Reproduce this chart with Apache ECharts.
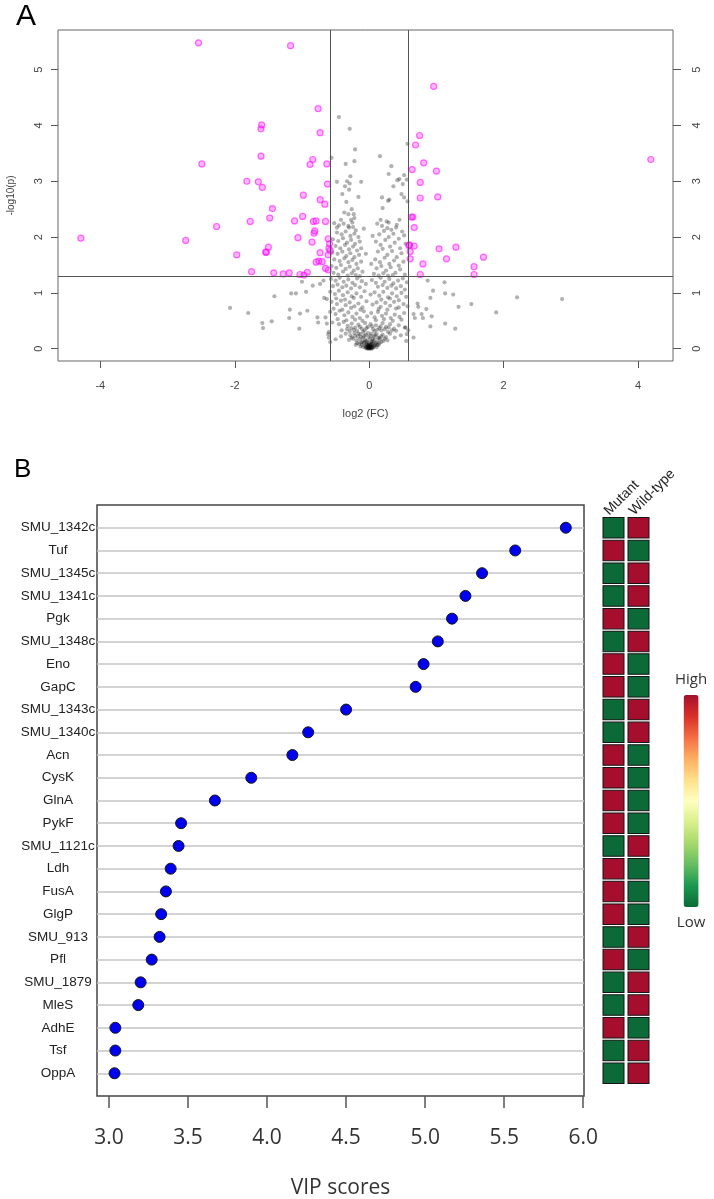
<!DOCTYPE html>
<html><head><meta charset="utf-8">
<script src="https://cdn.jsdelivr.net/npm/echarts@6/dist/echarts.min.js"></script>
<style>html,body{margin:0;padding:0;background:#fff}#c{width:714px;height:1199px}</style>
</head><body><div id="c"></div>
<script>
// ---------- Panel A: volcano plot ----------
const FC_CUT = Math.log2(1.5);      // |log2 FC| threshold
const P_CUT = -Math.log10(0.05);    // -log10(p) threshold
const volcanoXTicks = [-4, -2, 0, 2, 4];
const volcanoYTicks = [0, 1, 2, 3, 4, 5];
// significant proteins [log2 FC, -log10 p]
const volcanoSig = [
 [-2.54,5.48],[-1.17,5.43],[-0.76,4.30],[-1.60,4.01],[-1.61,3.94],[-0.73,3.87],[-2.49,3.31],[-1.61,3.45],
 [-0.84,3.39],[-0.88,3.30],[-0.63,3.31],[-1.82,3.00],[-1.65,2.99],[-1.59,2.89],[-0.62,2.95],[-0.98,2.75],
 [-0.73,2.67],[-0.66,2.59],[-1.11,2.29],[-0.99,2.37],[-0.83,2.28],[-0.79,2.29],[-0.65,2.28],[-4.29,1.98],
 [-2.73,1.94],[-2.27,2.19],[-1.97,1.68],[-1.77,2.28],[-1.75,1.38],[-1.44,2.51],[-1.48,2.34],[-1.50,1.82],
 [-1.54,1.73],[-1.53,1.73],[-1.42,1.36],[-1.28,1.34],[-1.19,1.36],[-1.06,1.99],[-1.03,1.33],[-0.97,1.32],
 [-0.92,1.37],[-0.85,1.91],[-0.82,2.07],[-0.81,2.11],[-0.79,1.55],[-0.75,1.57],[-0.70,1.56],[-0.73,1.72],
 [-0.61,1.97],[-0.59,1.88],[-0.60,1.80],[-0.65,1.44],[-0.61,1.41],[-0.61,1.68],[-0.58,1.76],
 [0.96,4.70],[4.19,3.39],[0.75,3.82],[0.69,3.65],[0.81,3.33],[0.64,3.21],[1.00,3.18],[0.76,2.98],
 [1.02,2.72],[0.76,2.70],[0.63,2.36],[0.65,2.36],[0.67,2.17],[0.60,1.86],[0.67,1.84],[0.61,1.74],
 [0.61,1.61],[0.80,1.52],[0.76,1.33],[1.04,1.79],[1.15,1.61],[1.29,1.82],[1.70,1.64],[1.56,1.47],
 [1.56,1.33],[0.59,1.85]
];
// non-significant proteins [log2 FC, -log10 p]
const volcanoNS = [
 [-0.45,4.15],[-0.29,3.94],[-0.21,3.57],[-0.56,3.42],[-0.22,3.36],[-0.35,3.31],[0.16,3.45],[0.33,3.27],
 [0.57,3.67],[-0.28,3.09],[-0.48,2.99],[-0.33,3.00],[-0.29,2.96],[-0.12,2.99],[-0.36,2.91],[-0.30,2.85],
 [-0.40,2.77],[-0.16,2.72],[-0.34,2.63],[-0.26,2.50],[-0.37,2.44],[-0.31,2.41],[-0.23,2.41],[-0.42,2.31],
 [-0.27,2.31],[-0.22,2.34],[-0.48,2.17],[-0.30,2.17],[-0.24,2.18],[0.29,3.13],[0.42,3.02],[0.45,3.04],
 [0.52,3.11],[0.36,2.91],[0.50,2.95],[0.56,3.03],[0.19,2.71],[0.30,2.67],[0.28,2.65],[0.48,2.77],
 [0.52,2.71],[0.57,2.64],[0.20,2.52],[0.17,2.31],[0.45,2.31],[0.29,2.26],[0.40,2.17],[0.27,2.16],
 [-0.52,2.25],[-0.45,2.21],[-0.38,2.24],[-0.31,2.20],[-0.25,2.26],[-0.20,2.12],[-0.48,2.08],[-0.41,2.05],
 [-0.35,2.10],[-0.28,2.02],[-0.22,2.06],[-0.16,2.00],[-0.54,1.96],[-0.46,1.93],[-0.39,1.98],[-0.33,1.90],
 [-0.27,1.95],[-0.21,1.88],[-0.14,1.92],[-0.50,1.84],[-0.43,1.80],[-0.36,1.86],[-0.30,1.78],[-0.24,1.83],
 [-0.18,1.76],[-0.12,1.80],[-0.55,1.72],[-0.47,1.70],[-0.40,1.74],[-0.34,1.66],[-0.28,1.71],[-0.22,1.64],
 [-0.15,1.68],[-0.52,1.60],[-0.44,1.57],[-0.37,1.62],[-0.31,1.55],[-0.25,1.59],[-0.19,1.52],[-0.12,1.56],
 [-0.56,1.48],[-0.49,1.45],[-0.42,1.50],[-0.35,1.43],[-0.29,1.47],[-0.23,1.40],[-0.17,1.44],[-0.10,1.38],
 [-0.53,1.36],[-0.46,1.33],[-0.39,1.38],[-0.32,1.31],[-0.26,1.35],[-0.20,1.32],[-0.14,1.30],
 [0.12,2.24],[0.19,2.20],[0.26,2.28],[0.33,2.13],[0.41,2.22],[0.49,2.10],[0.15,2.05],[0.22,2.11],
 [0.29,2.00],[0.36,2.06],[0.44,1.97],[0.52,2.03],[0.10,1.92],[0.17,1.86],[0.24,1.95],[0.31,1.83],
 [0.38,1.90],[0.46,1.80],[0.54,1.88],[0.13,1.74],[0.20,1.79],[0.27,1.68],[0.34,1.75],[0.41,1.64],
 [0.48,1.71],[0.09,1.60],[0.16,1.55],[0.23,1.63],[0.30,1.52],[0.37,1.58],[0.44,1.49],[0.51,1.56],
 [0.11,1.44],[0.18,1.48],[0.25,1.40],[0.32,1.46],[0.39,1.36],[0.46,1.42],[0.53,1.33],[0.07,1.34],
 [0.14,1.31],[0.21,1.35],[0.28,1.31],[0.35,1.32],[-0.05,1.70],[0.03,1.52],[-0.08,2.15],[0.05,2.02],
 [-0.57,1.25],[-0.50,1.22],[-0.44,1.27],[-0.38,1.20],[-0.31,1.24],[-0.25,1.18],[-0.18,1.26],[-0.11,1.21],
 [-0.05,1.16],[0.04,1.23],[0.10,1.18],[0.17,1.27],[0.23,1.20],[0.30,1.25],[0.36,1.17],[0.43,1.22],
 [0.50,1.26],[0.56,1.19],[-0.54,1.12],[-0.47,1.15],[-0.40,1.10],[-0.34,1.13],[-0.27,1.08],[-0.21,1.14],
 [-0.14,1.10],[0.13,1.11],[0.20,1.14],[0.27,1.09],[0.33,1.13],[0.40,1.08],[0.47,1.12],[0.53,1.06],
 [-0.58,1.02],[-0.51,0.98],[-0.45,1.04],[-0.39,0.96],[-0.32,1.01],[-0.26,0.94],[-0.19,0.99],[-0.12,0.93],
 [-0.07,1.03],[0.02,0.97],[0.08,1.01],[0.15,0.95],[0.21,1.02],[0.28,0.92],[0.34,0.99],[0.41,0.94],
 [0.48,1.00],[0.55,0.93],[-0.49,0.90],[-0.36,0.88],[-0.23,0.91],[0.18,0.88],[0.31,0.90],[0.44,0.87],
 [-0.56,0.84],[-0.48,0.80],[-0.42,0.86],[-0.35,0.78],[-0.29,0.83],[-0.22,0.76],[-0.16,0.81],[-0.10,0.74],
 [-0.04,0.85],[0.05,0.79],[0.11,0.83],[0.17,0.75],[0.24,0.82],[0.31,0.77],[0.37,0.84],[0.44,0.74],
 [0.51,0.80],[0.57,0.76],[-0.53,0.72],[-0.40,0.70],[-0.27,0.73],[-0.13,0.70],[0.14,0.71],[0.27,0.70],
 [0.40,0.72],[-0.58,0.66],[-0.50,0.62],[-0.44,0.68],[-0.37,0.60],[-0.31,0.65],[-0.25,0.57],[-0.19,0.63],
 [-0.14,0.55],[-0.08,0.67],[-0.03,0.58],[0.03,0.64],[0.08,0.56],[0.13,0.66],[0.19,0.59],[0.25,0.63],
 [0.32,0.55],[0.38,0.61],[0.45,0.57],[0.52,0.64],[-0.47,0.53],[-0.34,0.51],[-0.21,0.52],[-0.10,0.50],
 [0.10,0.51],[0.22,0.53],[0.35,0.50],[0.48,0.52],[-0.55,0.47],[-0.45,0.44],[-0.38,0.48],[-0.32,0.41],
 [-0.26,0.45],[-0.21,0.38],[-0.16,0.43],[-0.11,0.36],[-0.06,0.46],[-0.02,0.39],[0.02,0.44],[0.06,0.35],
 [0.10,0.42],[0.15,0.37],[0.20,0.46],[0.25,0.39],[0.31,0.44],[0.37,0.36],[0.44,0.42],[0.53,0.38],
 [-0.41,0.33],[-0.29,0.31],[-0.18,0.32],[-0.09,0.30],[0.08,0.31],[0.18,0.33],[0.28,0.30],[0.40,0.32],
 [-0.60,0.30],[0.58,0.33],[-0.35,0.27],[-0.28,0.24],[-0.22,0.28],[-0.17,0.22],[-0.13,0.26],[-0.09,0.20],
 [-0.05,0.25],[-0.01,0.21],[0.03,0.27],[0.07,0.22],[0.11,0.26],[0.15,0.20],[0.20,0.25],[0.25,0.21],
 [0.31,0.27],[-0.24,0.18],[-0.19,0.15],[-0.14,0.17],[-0.10,0.13],[-0.06,0.16],[-0.03,0.12],[0.01,0.17],
 [0.04,0.13],[0.08,0.16],[0.12,0.12],[0.16,0.17],[0.21,0.14],[-0.30,0.16],[0.27,0.15],[-0.42,0.22],
 [0.38,0.20],[-0.50,0.17],[0.47,0.24],[-0.58,0.12],[0.55,0.14],[-0.15,0.09],[-0.11,0.07],[-0.08,0.10],
 [-0.06,0.05],[-0.04,0.08],[-0.02,0.04],[0.00,0.07],[0.01,0.02],[0.03,0.05],[0.05,0.09],[0.07,0.04],
 [0.09,0.08],[0.12,0.06],[-0.01,0.01],[0.00,0.03],[-0.03,0.02],[0.02,0.01],[0.04,0.02],[-0.02,0.06],
 [0.02,0.08],[-0.05,0.03],[0.06,0.03],[0.00,0.00],[0.01,0.04],[-0.01,0.05],[0.10,0.10],[-0.12,0.11],
 [0.15,0.10],[-0.18,0.10],
 [-0.33,0.35],[-0.27,0.37],[-0.23,0.34],[-0.14,0.39],[-0.07,0.33],[-0.04,0.37],[0.04,0.40],[0.12,0.34],
 [0.17,0.40],[0.23,0.35],[0.29,0.38],[0.34,0.33],[-0.26,0.20],[-0.21,0.23],[-0.16,0.27],[-0.12,0.21],
 [-0.07,0.23],[-0.02,0.28],[0.02,0.23],[0.05,0.18],[0.09,0.24],[0.13,0.19],[0.18,0.22],[0.23,0.18],
 [-0.20,0.07],[-0.13,0.04],[-0.09,0.03],[-0.07,0.12],[-0.04,0.14],[-0.01,0.10],[0.03,0.11],[0.06,0.13],
 [0.08,0.06],[0.11,0.03],[0.14,0.07],[0.18,0.12],[-0.03,0.07],[0.01,0.06],[0.04,0.07],[-0.00,0.01],
 [0.02,0.03],[-0.02,0.02],[0.03,0.00],[-0.03,0.00],[0.05,0.01],[-0.05,0.01],
 [-2.07,0.73],[-1.80,0.64],[-1.59,0.46],[-1.58,0.37],[-1.45,0.49],[-1.41,0.94],[-1.16,0.99],[-1.09,0.99],
 [-1.18,0.70],[-1.19,0.55],[-1.04,0.36],[-1.03,0.63],[-1.00,1.20],[-0.94,1.02],[-0.92,0.68],[-0.84,1.13],
 [-0.77,0.56],[-0.76,0.47],[-0.68,1.22],[-0.67,0.91],[-0.63,0.89],[-0.65,0.56],[-0.63,0.45],[-0.61,0.26],
 [-0.60,0.20],[-0.73,1.16],
 [0.87,1.22],[1.12,1.19],[0.95,1.04],[1.13,0.99],[1.25,0.97],[0.91,0.91],[0.72,0.81],[0.73,0.75],
 [0.85,0.71],[1.33,0.75],[1.52,0.80],[2.20,0.92],[2.87,0.89],[1.89,0.65],[0.66,0.62],[0.68,0.55],
 [0.78,0.62],[0.80,0.55],[0.93,0.58],[1.13,0.45],[0.91,0.40],[1.28,0.36],[0.66,0.20],[0.54,0.38],[0.56,0.26]
];

// ---------- Panel B: VIP scores ----------
const vipGenes = ['SMU_1342c','Tuf','SMU_1345c','SMU_1341c','Pgk','SMU_1348c','Eno','GapC','SMU_1343c',
 'SMU_1340c','Acn','CysK','GlnA','PykF','SMU_1121c','Ldh','FusA','GlgP','SMU_913','Pfl','SMU_1879',
 'MleS','AdhE','Tsf','OppA'];
const vipScores = [5.89,5.57,5.36,5.255,5.17,5.08,4.99,4.94,4.50,4.26,4.16,3.90,3.67,3.456,3.44,3.39,
 3.36,3.33,3.32,3.27,3.20,3.185,3.04,3.04,3.035];
const vipTicks = [3.0, 3.5, 4.0, 4.5, 5.0, 5.5, 6.0];
// relative abundance: 1 = high, 0 = low
const heatColumns = ['Mutant', 'Wild-type'];
const mutantLevel = [0,1,0,0,1,0,1,1,0,0,1,1,1,1,0,1,1,1,0,1,0,0,1,0,0];
const wildLevel   = [1,0,1,1,0,1,0,0,1,1,0,0,0,0,1,0,0,0,1,0,1,1,0,1,1];
const legendText = ['High', 'Low'];

const heatData = [];
vipGenes.forEach((g, i) => {
  heatData.push([0, i + 1, mutantLevel[i]]);
  heatData.push([1, i + 1, wildLevel[i]]);
});

const SANS = 'Liberation Sans, Arial, sans-serif';
const chart = echarts.init(document.getElementById('c'), null, {renderer: 'canvas'});
const option = {
  animation: false,
  backgroundColor: '#fff',
  title: [
    {text: 'A', left: 16, top: 2, padding: 0, textStyle: {fontSize: 30, fontWeight: 'normal', color: '#000', fontFamily: SANS}},
    {text: 'B', left: 14, top: 457, padding: 0, textStyle: {fontSize: 26, fontWeight: 'normal', color: '#000', fontFamily: SANS}}
  ],
  grid: [
    {left: 58, right: 41, top: 30, bottom: 838, show: true, borderColor: '#666', borderWidth: 1, backgroundColor: 'transparent', outerBoundsMode: 'none', containLabel: false},
    {left: 97, right: 130, top: 505, bottom: 103, show: true, borderColor: '#444', borderWidth: 1.5, backgroundColor: 'transparent', outerBoundsMode: 'none', containLabel: false},
    {left: 601, width: 50, top: 505, bottom: 103, show: false, outerBoundsMode: 'none', containLabel: false}
  ],
  xAxis: [
    {gridIndex: 0, type: 'value', min: -4.63, max: 4.52, position: 'bottom',
     axisLine: {show: false, onZero: false}, splitLine: {show: false},
     axisTick: {show: true, length: 7, customValues: volcanoXTicks, lineStyle: {color: '#555'}},
     axisLabel: {customValues: volcanoXTicks, fontSize: 11, color: '#444', margin: 19, fontFamily: SANS},
     name: 'log2 (FC)', nameLocation: 'middle', nameGap: 47,
     nameTextStyle: {fontSize: 11, color: '#444', fontFamily: SANS}},
    {gridIndex: 1, type: 'value', min: 2.924, max: 6.005, position: 'bottom',
     axisLine: {show: false, onZero: false}, splitLine: {show: false},
     axisTick: {show: true, length: 12, customValues: vipTicks, lineStyle: {color: '#555', width: 1.5}},
     axisLabel: {customValues: vipTicks, formatter: v => Number(v).toFixed(1), fontSize: 21, color: '#333', margin: 32, fontFamily: 'Open Sans, sans-serif'},
     name: 'VIP scores', nameLocation: 'middle', nameGap: 82,
     nameTextStyle: {fontSize: 21, color: '#333', fontFamily: 'Open Sans, sans-serif'}},
    {gridIndex: 2, type: 'value', min: -0.5, max: 1.5, show: false}
  ],
  yAxis: [
    {gridIndex: 0, type: 'value', min: -0.22, max: 5.71, position: 'left',
     axisLine: {show: false, onZero: false}, splitLine: {show: false},
     axisTick: {show: true, length: 7, customValues: volcanoYTicks, lineStyle: {color: '#555'}},
     axisLabel: {customValues: volcanoYTicks, rotate: 90, fontSize: 11, color: '#444', margin: 14, fontFamily: SANS},
     name: '-log10(p)', nameLocation: 'middle', nameGap: 42,
     nameTextStyle: {fontSize: 10, color: '#444', fontFamily: SANS}},
    {gridIndex: 0, type: 'value', min: -0.22, max: 5.71, position: 'right',
     axisLine: {show: false, onZero: false}, splitLine: {show: false},
     axisTick: {show: true, length: 8, customValues: volcanoYTicks, lineStyle: {color: '#555'}},
     axisLabel: {customValues: volcanoYTicks, rotate: 90, fontSize: 11, color: '#444', margin: 18, fontFamily: SANS}},
    {gridIndex: 1, type: 'value', min: 0, max: 26, interval: 1, inverse: true, position: 'left',
     axisLine: {show: false, onZero: false}, axisTick: {show: false}, splitLine: {show: false},
     axisLabel: {formatter: v => vipGenes[v - 1] || '', align: 'center', margin: 39, fontSize: 13.5, color: '#222', fontFamily: SANS}},
    {gridIndex: 2, type: 'value', min: 0, max: 26, inverse: true, show: false}
  ],
  visualMap: {
    type: 'continuous', min: 0, max: 1, dimension: 2, seriesIndex: 5,
    calculable: false, hoverLink: false, realtime: false,
    left: 660, top: 657, itemWidth: 15, itemHeight: 212,
    text: legendText, textGap: 8,
    textStyle: {fontSize: 15, color: '#333', fontFamily: 'Open Sans, sans-serif'},
    inRange: {color: ['#0b6a37','#1a9850','#66bd63','#a6d96a','#d9ef8b','#ffffbf','#fee08b','#fdae61','#f46d43','#d73027','#a50f2d']}
  },
  series: [
    {type: 'scatter', xAxisIndex: 0, yAxisIndex: 0, data: volcanoNS, symbolSize: 4.2, silent: true,
     itemStyle: {color: 'rgba(0,0,0,0.38)'}},
    {type: 'scatter', xAxisIndex: 0, yAxisIndex: 0, data: volcanoSig, symbolSize: 6, silent: true,
     itemStyle: {color: 'rgba(255,0,255,0.35)', borderColor: 'rgba(255,0,255,0.7)', borderWidth: 1.2}},
    {type: 'scatter', xAxisIndex: 0, yAxisIndex: 0, data: [], z: 4, silent: true,
     markLine: {silent: true, symbol: 'none', animation: false, label: {show: false},
       lineStyle: {color: '#555', width: 1, type: 'solid'},
       data: [{xAxis: -FC_CUT}, {xAxis: FC_CUT}, {yAxis: P_CUT}]}},
    {type: 'scatter', xAxisIndex: 1, yAxisIndex: 2, data: [], z: 1, silent: true,
     markLine: {silent: true, symbol: 'none', animation: false, label: {show: false},
       lineStyle: {color: '#c4c4c4', width: 1.5, type: 'solid'},
       data: vipGenes.map((g, i) => ({yAxis: i + 1}))}},
    {type: 'scatter', xAxisIndex: 1, yAxisIndex: 2, z: 5, silent: true,
     data: vipScores.map((s, i) => [s, i + 1]), symbolSize: 11,
     itemStyle: {color: '#0000f0', borderColor: '#151515', borderWidth: 1, opacity: 1}},
    {type: 'scatter', xAxisIndex: 2, yAxisIndex: 3, silent: true, data: heatData,
     symbol: 'rect', symbolSize: [21, 20.5],
     itemStyle: {borderColor: '#151515', borderWidth: 1, opacity: 1}}
  ]
};
chart.setOption(option);

// column headers, placed from the heat axes
const headers = heatColumns.map((name, i) => {
  const p = chart.convertToPixel({xAxisIndex: 2, yAxisIndex: 3}, [i, 0]);
  return {type: 'text', x: p[0] - 7, y: p[1] + 8, rotation: Math.PI / 4,
    style: {text: name, fill: '#222', font: '14px ' + SANS, textAlign: 'left', textVerticalAlign: 'middle'}};
});
chart.setOption({graphic: headers});
</script></body></html>
